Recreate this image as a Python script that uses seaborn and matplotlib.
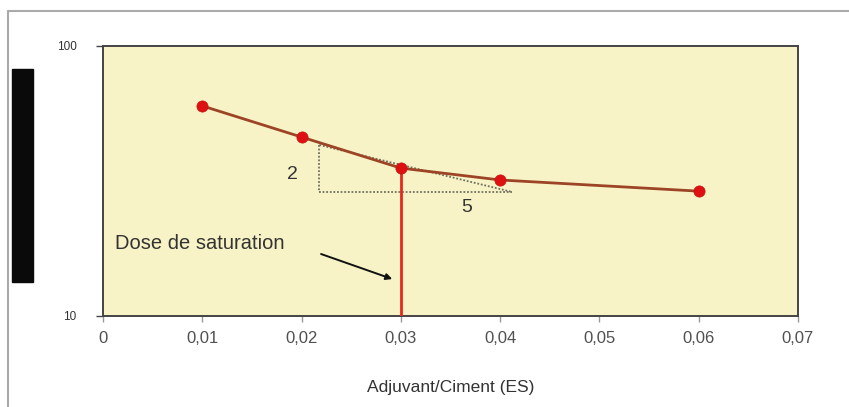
import numpy as np
import pandas as pd
import matplotlib
matplotlib.use("Agg")
import matplotlib.pyplot as plt
from matplotlib.ticker import FuncFormatter, FixedLocator, NullLocator
from matplotlib.patches import Rectangle
from matplotlib.lines import Line2D
import seaborn as sns

# ---- data ----
dose = [0.01, 0.02, 0.03, 0.04, 0.06]
flow_time = [60, 46, 35.3, 31.9, 29]

sat_dose = 0.03
tangent_x = [0.0218, 0.0412]
tangent_y = [43, 28.8]

x_ticks = [0, 0.01, 0.02, 0.03, 0.04, 0.05, 0.06, 0.07]
y_ticks = [10, 100]

sns.set_style("white")
plt.rcParams['font.family'] = ['Liberation Sans', 'DejaVu Sans']

df = pd.DataFrame({'dose': dose, 'temps': flow_time})

fig = plt.figure(figsize=(8.49, 4.07), dpi=100)
ax = fig.add_axes([103 / 849, 1 - 316 / 407, 695 / 849, 270 / 407])
ax.set_facecolor('#f8f3c6')

ax.set_yscale('log')
ax.set_xlim(0, 0.07)
ax.set_ylim(10, 100)

sns.lineplot(data=df, x='dose', y='temps', color='#9c4425', lw=2.0, ax=ax, zorder=3)
sns.scatterplot(data=df, x='dose', y='temps', color='#dd1111', s=65,
                edgecolor='#cc1010', linewidth=0.5, ax=ax, zorder=4)

# saturation dose vertical line
ax.plot([sat_dose, sat_dose], [10, flow_time[2]], color='#e8271b', lw=2.0, zorder=3)

# dotted slope triangle
ax.plot([tangent_x[0], tangent_x[0]], [tangent_y[0], tangent_y[1]],
        color='#707060', ls=(0, (1, 1)), lw=1.3, zorder=2)
ax.plot([tangent_x[0], tangent_x[1]], [tangent_y[1], tangent_y[1]],
        color='#707060', ls=(0, (1, 1)), lw=1.3, zorder=2)
ax.plot(tangent_x, tangent_y, color='#707060', ls=(0, (1, 1)), lw=1.3, zorder=2)

ax.text(0.0191, 33.3, '2', fontsize=14, color='#333333', ha='center', va='center')
ax.text(0.0366, 25.3, '5', fontsize=14, color='#333333', ha='center', va='center')

ax.text(0.0012, 18.6, 'Dose de saturation', fontsize=14.5, color='#333333',
        ha='left', va='center')
ax.annotate('', xy=(0.0294, 13.6), xytext=(0.0217, 17.1),
            arrowprops=dict(arrowstyle='-|>', color='#111111', lw=1.4,
                            mutation_scale=9), zorder=5)

# axes styling
for s in ax.spines.values():
    s.set_color('#444444')
    s.set_linewidth(1.4)

ax.xaxis.set_major_locator(FixedLocator(x_ticks))
ax.xaxis.set_major_formatter(FuncFormatter(lambda v, p: ('%g' % round(v, 2)).replace('.', ',')))
ax.yaxis.set_major_locator(FixedLocator(y_ticks))
ax.yaxis.set_minor_locator(NullLocator())
ax.yaxis.set_major_formatter(FuncFormatter(lambda v, p: '%d' % v))
ax.tick_params(axis='x', length=4, width=1, color='#999999', labelsize=12,
               labelcolor='#505050', pad=7, bottom=True)
ax.tick_params(axis='y', length=5, width=1, color='#444444', labelsize=8.5,
               labelcolor='#333333', pad=14, left=True)
ax.set_xlabel('Adjuvant/Ciment (ES)', fontsize=12.5, color='#333333', labelpad=24)
ax.set_ylabel('')

# outer frame and black block on left
fig.add_artist(Line2D([8 / 849, 1.0], [1 - 11 / 407, 1 - 11 / 407],
                      transform=fig.transFigure, color='#aaaaaa', lw=1.5))
fig.add_artist(Line2D([8 / 849, 8 / 849], [0, 1 - 11 / 407],
                      transform=fig.transFigure, color='#aaaaaa', lw=1.5))
fig.add_artist(Rectangle((12 / 849, 1 - 282 / 407), 21 / 849, 213 / 407,
                         transform=fig.transFigure, color='#0a0a0a'))

fig.savefig('out.png', dpi=100)
